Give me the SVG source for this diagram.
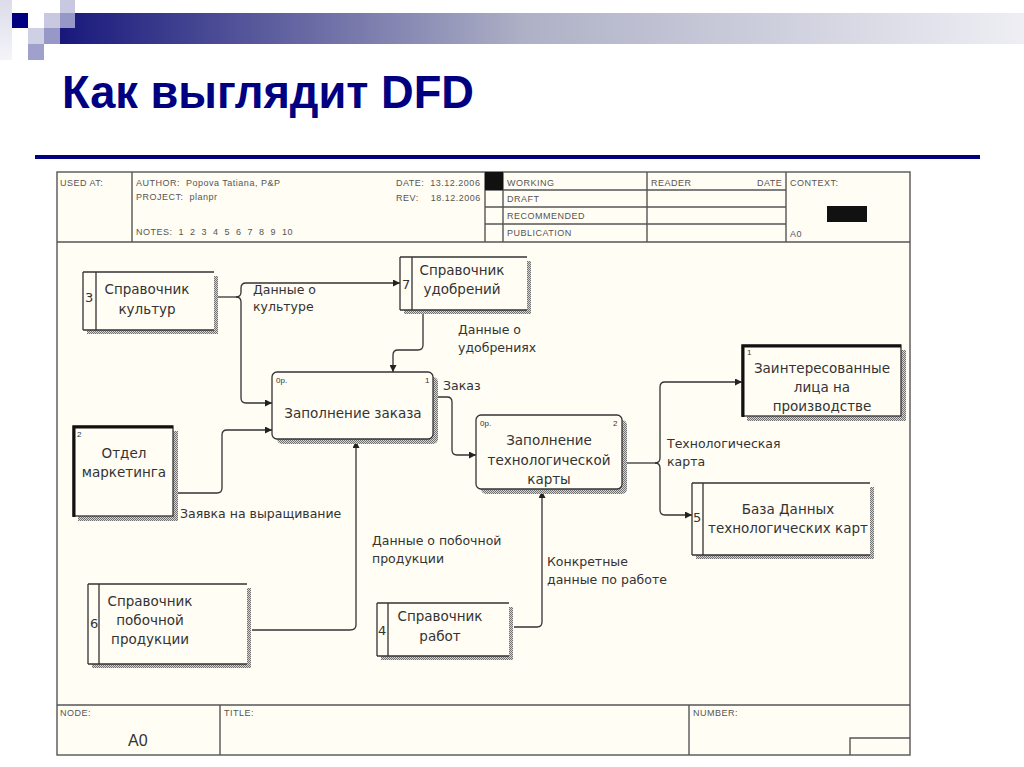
<svg xmlns="http://www.w3.org/2000/svg" width="1024" height="767" viewBox="0 0 1024 767">
<defs>
<linearGradient id="bar" x1="60" y1="0" x2="1024" y2="0" gradientUnits="userSpaceOnUse">
<stop offset="0" stop-color="#18187c"/>
<stop offset="0.48" stop-color="#aeb0c6"/>
<stop offset="1" stop-color="#eeeef4"/>
</linearGradient>
<linearGradient id="fade" x1="0" y1="0" x2="0" y2="1">
<stop offset="0" stop-color="#dcdcea"/>
<stop offset="1" stop-color="#f4f4f8"/>
</linearGradient>
<pattern id="hatch" width="2" height="2" patternUnits="userSpaceOnUse">
<rect width="2" height="2" fill="#d8d6d0"/>
<rect width="1" height="1" fill="#707070"/>
<rect x="1" y="1" width="1" height="1" fill="#707070"/>
</pattern>
<marker id="arr" viewBox="0 0 10 10" refX="10" refY="5" markerWidth="9" markerHeight="7" markerUnits="userSpaceOnUse" orient="auto">
<path d="M0,0 L10,5 L0,10 z" fill="#222"/>
</marker>
<style>
.ln{fill:none;stroke:#333;stroke-width:1.3}
.fr{fill:none;stroke:#555;stroke-width:1.4}
.hd{font-family:"Liberation Sans",Arial,sans-serif;font-size:9px;letter-spacing:0.5px;fill:#555;white-space:pre}
.nt{font-family:"DejaVu Sans","Liberation Sans",sans-serif;font-size:13.5px;fill:#333;text-anchor:middle}
.lb{font-family:"DejaVu Sans","Liberation Sans",sans-serif;font-size:12.5px;fill:#333}
.sm{font-family:"Liberation Sans",Arial,sans-serif;font-size:8px;fill:#333}
.num{font-family:"DejaVu Sans","Liberation Sans",sans-serif;font-size:13px;fill:#333}
.sh{fill:url(#hatch)}
.bx{fill:#fffdf4;stroke:#333;stroke-width:1.3}
</style>
</defs>
<rect width="1024" height="767" fill="#ffffff"/>
<g id="slide-header">
<rect x="0" y="0" width="12" height="60" fill="url(#fade)"/>
<rect x="60" y="13" width="964" height="31" fill="url(#bar)"/>
<rect x="12" y="13" width="16" height="15" fill="#000080"/>
<rect x="44" y="13" width="16" height="15" fill="#c8c8e0"/>
<rect x="60" y="0" width="15" height="13" fill="#c8c8e0"/>
<rect x="60" y="13" width="15" height="15" fill="#9898c8"/>
<rect x="28" y="28" width="16" height="16" fill="#d0d0e4"/>
<rect x="44" y="28" width="16" height="16" fill="#9898c8"/>
<rect x="28" y="44" width="16" height="16" fill="#a0a0cc"/>
<text x="62" y="108" font-family="'Liberation Sans',Arial,sans-serif" font-size="47" font-weight="bold" fill="#000080" textLength="412" lengthAdjust="spacingAndGlyphs">Как выглядит DFD</text>
<rect x="35" y="155" width="945" height="4" fill="#000080"/>
</g>
<g id="frame">
<rect x="57" y="172" width="853" height="583" fill="#fffdf4" stroke="#555" stroke-width="1.4"/>
<path class="fr" d="M57,242 H910 M132,172 V242 M485,172 V242 M503,172 V242 M647,172 V242 M786,172 V242 M485,190 H786 M485,207 H786 M485,224 H786"/>
<rect x="485" y="172" width="18" height="18" fill="#111"/>
<rect x="827" y="206" width="40" height="16" fill="#111"/>
<text class="hd" x="60" y="186">USED AT:</text>
<text class="hd" x="136" y="186" xml:space="preserve">AUTHOR:  Popova Tatiana, P&amp;P</text>
<text class="hd" x="136" y="200" xml:space="preserve">PROJECT:  planpr</text>
<text class="hd" x="136" y="235" xml:space="preserve">NOTES:  1  2  3  4  5  6  7  8  9  10</text>
<text class="hd" x="396" y="186" xml:space="preserve">DATE:  13.12.2006</text>
<text class="hd" x="396" y="201" xml:space="preserve">REV:    18.12.2006</text>
<text class="hd" x="507" y="186">WORKING</text>
<text class="hd" x="507" y="202">DRAFT</text>
<text class="hd" x="507" y="219">RECOMMENDED</text>
<text class="hd" x="507" y="236">PUBLICATION</text>
<text class="hd" x="651" y="186">READER</text>
<text class="hd" x="757" y="186">DATE</text>
<text class="hd" x="790" y="186">CONTEXT:</text>
<text class="hd" x="790" y="237">A0</text>
<path class="fr" d="M57,705 H910 M220,705 V755 M689,705 V755 M850,755 V738 H910"/>
<text class="hd" x="60" y="716">NODE:</text>
<text x="128" y="746" font-family="'Liberation Sans',Arial,sans-serif" font-size="16" fill="#333">A0</text>
<text class="hd" x="224" y="716">TITLE:</text>
<text class="hd" x="693" y="716">NUMBER:</text>
</g>
<g id="connectors">
<path class="ln" d="M217,297 H236"/>
<path class="ln" d="M236,297 Q241,297 241,292 V288 Q241,283 246,283 H400" marker-end="url(#arr)"/>
<path class="ln" d="M236,297 Q241,297 241,302 V398 Q241,403 246,403 H272" marker-end="url(#arr)"/>
<path class="ln" d="M423,311 V345 Q423,350 418,350 H398 Q393,350 393,355 V372" marker-end="url(#arr)"/>
<path class="ln" d="M435,397 H447 Q452,397 452,402 V450 Q452,455 457,455 H476" marker-end="url(#arr)"/>
<path class="ln" d="M624,463 H655"/>
<path class="ln" d="M655,463 Q660,463 660,458 V387 Q660,382 665,382 H742" marker-end="url(#arr)"/>
<path class="ln" d="M655,463 Q660,463 660,468 V510 Q660,515 665,515 H692" marker-end="url(#arr)"/>
<path class="ln" d="M176,493 H217 Q222,493 222,488 V435 Q222,430 227,430 H272" marker-end="url(#arr)"/>
<path class="ln" d="M252,630 H350 Q356,630 356,625 V441" marker-end="url(#arr)"/>
<path class="ln" d="M514,627 H537 Q542,627 542,622 V491" marker-end="url(#arr)"/>
<text class="lb" x="253" y="294">Данные о</text>
<text class="lb" x="253" y="311">культуре</text>
<text class="lb" x="458" y="334">Данные о</text>
<text class="lb" x="458" y="352">удобрениях</text>
<text class="lb" x="443" y="390">Заказ</text>
<text class="lb" x="667" y="448">Технологическая</text>
<text class="lb" x="667" y="466">карта</text>
<text class="lb" x="180" y="518">Заявка на выращивание</text>
<text class="lb" x="372" y="545">Данные о побочной</text>
<text class="lb" x="372" y="563">продукции</text>
<text class="lb" x="547" y="566">Конкретные</text>
<text class="lb" x="547" y="584">данные по работе</text>
</g>
<g id="node-3">
<rect class="sh" x="214" y="276" width="4" height="58"/>
<rect class="sh" x="87" y="330" width="131" height="4"/>
<path class="ln" d="M83,272 H214 M83,330 H214 M83,272 V330 M96,272 V330"/>
<text class="num" x="85" y="302">3</text>
<text class="nt" x="147" y="294">Справочник</text>
<text class="nt" x="147" y="314">культур</text>
</g>
<g id="node-7">
<rect class="sh" x="527" y="261" width="4" height="53"/>
<rect class="sh" x="404" y="310" width="127" height="4"/>
<path class="ln" d="M400,257 H527 M400,310 H527 M400,257 V310 M412,257 V310"/>
<text class="num" x="402" y="289">7</text>
<text class="nt" x="462" y="275">Справочник</text>
<text class="nt" x="462" y="294">удобрений</text>
</g>
<g id="process-1">
<rect class="sh" x="277" y="377" width="161" height="67" rx="5"/>
<rect class="bx" x="272" y="372" width="161" height="67" rx="5"/>
<text class="sm" x="276" y="383">0р.</text>
<text class="sm" x="425" y="383">1</text>
<text class="nt" x="353" y="418">Заполнение заказа</text>
</g>
<g id="process-2">
<rect class="sh" x="481" y="420" width="146" height="74" rx="5"/>
<rect class="bx" x="476" y="415" width="146" height="74" rx="5"/>
<text class="sm" x="480" y="426">0р.</text>
<text class="sm" x="613" y="426">2</text>
<text class="nt" x="549" y="445">Заполнение</text>
<text class="nt" x="549" y="465">технологической</text>
<text class="nt" x="549" y="484">карты</text>
</g>
<g id="entity-1">
<rect class="sh" x="747" y="350" width="159" height="71"/>
<rect class="bx" x="742" y="345" width="159" height="71"/>
<path d="M743,417 V346 H901" fill="none" stroke="#111" stroke-width="3"/>
<text class="sm" x="747" y="355">1</text>
<text class="nt" x="822" y="373">Заинтересованные</text>
<text class="nt" x="822" y="392">лица на</text>
<text class="nt" x="822" y="411">производстве</text>
</g>
<g id="node-5">
<rect class="sh" x="870" y="487" width="4" height="72"/>
<rect class="sh" x="696" y="555" width="178" height="4"/>
<path class="ln" d="M692,483 H870 M692,555 H870 M692,483 V555 M703,483 V555"/>
<text class="num" x="693" y="522">5</text>
<text class="nt" x="788" y="514">База Данных</text>
<text class="nt" x="788" y="533">технологических карт</text>
</g>
<g id="entity-2">
<rect class="sh" x="78" y="431" width="100" height="90"/>
<rect class="bx" x="73" y="426" width="100" height="90"/>
<path d="M74,517 V427 H173" fill="none" stroke="#111" stroke-width="3"/>
<text class="sm" x="77" y="437">2</text>
<text class="nt" x="124" y="458">Отдел</text>
<text class="nt" x="124" y="477">маркетинга</text>
</g>
<g id="node-6">
<rect class="sh" x="247" y="588" width="4" height="80"/>
<rect class="sh" x="92" y="664" width="159" height="4"/>
<path class="ln" d="M88,584 H247 M88,664 H247 M88,584 V664 M99,584 V664"/>
<text class="num" x="90" y="628">6</text>
<text class="nt" x="150" y="606">Справочник</text>
<text class="nt" x="150" y="625">побочной</text>
<text class="nt" x="150" y="644">продукции</text>
</g>
<g id="node-4">
<rect class="sh" x="509" y="607" width="4" height="53"/>
<rect class="sh" x="381" y="656" width="132" height="4"/>
<path class="ln" d="M377,603 H509 M377,656 H509 M377,603 V656 M388,603 V656"/>
<text class="num" x="378" y="635">4</text>
<text class="nt" x="440" y="621">Справочник</text>
<text class="nt" x="440" y="641">работ</text>
</g>
</svg>
